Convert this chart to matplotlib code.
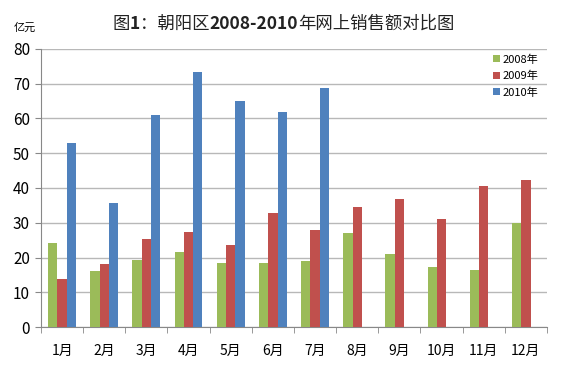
import numpy as np
import matplotlib
matplotlib.use("Agg")
import matplotlib.pyplot as plt
from matplotlib.offsetbox import TextArea, HPacker, AnchoredOffsetbox

plt.rcParams['font.family'] = ['Noto Sans CJK SC', 'DejaVu Sans']

months = ['1月', '2月', '3月', '4月', '5月', '6月', '7月', '8月', '9月', '10月', '11月', '12月']
sales_2008 = [24.1, 16.2, 19.4, 21.6, 18.5, 18.4, 18.9, 27.0, 21.0, 17.3, 16.3, 30.0]
sales_2009 = [13.9, 18.0, 25.4, 27.2, 23.5, 32.8, 28.0, 34.6, 36.9, 31.0, 40.5, 42.3]
sales_2010 = [52.8, 35.8, 61.1, 73.3, 64.9, 61.8, 68.9]
series_names = ['2008年', '2009年', '2010年']
colors = ['#9BBB59', '#C0504D', '#4F81BD']

# title pieces: (text, bold?)
title_parts = [('图', False), ('1', True), ('：朝阳区', False), ('2008-2010', True),
               ('年网上销售额对比图', False)]

fig = plt.figure(figsize=(5.67, 3.65), dpi=100)
ax = fig.add_axes([0.0723, 0.104, 0.8924, 0.762])

x = np.arange(len(months))
w = 0.22
for i, (vals, name, c) in enumerate(zip([sales_2008, sales_2009, sales_2010], series_names, colors)):
    xs = x[:len(vals)] + (i - 1) * w
    ax.bar(xs, vals, width=w, color=c, label=name, zorder=3)

ax.set_xlim(-0.5, len(months) - 0.5)
ax.set_ylim(0, 80)
ax.set_yticks(range(0, 81, 10))
ax.yaxis.grid(True, color='#b8b8b8', linewidth=1, zorder=0)

for s in ['top', 'right']:
    ax.spines[s].set_visible(False)
for s in ['left', 'bottom']:
    ax.spines[s].set_color('#888888')

# month labels centred, tick marks between categories
ax.set_xticks(x)
ax.set_xticklabels(months, fontsize=10)
ax.set_xticks(np.arange(-0.5, len(months)), minor=True)
ax.tick_params(axis='x', which='major', length=0, pad=12)
ax.tick_params(axis='x', which='minor', length=4, color='#888888')
ax.tick_params(axis='y', length=4, color='#888888', labelsize=11, pad=4)

ax.legend(loc='upper right', bbox_to_anchor=(0.995, 1.0), frameon=False,
          fontsize=8, handlelength=0.6, handleheight=0.6, handletextpad=0.3,
          labelspacing=0.55, borderaxespad=0.1)

# mixed weight title
boxes = [TextArea(t, textprops=dict(fontsize=12.5, fontweight='bold' if b else 'normal',
                                    color='#222222'))
         for t, b in title_parts]
title = AnchoredOffsetbox(loc='center', child=HPacker(children=boxes, pad=0, sep=0, align='baseline'),
                          frameon=False, bbox_to_anchor=(0.5, 0.935),
                          bbox_transform=fig.transFigure, pad=0, borderpad=0)
fig.add_artist(title)

fig.text(0.025, 0.925, '亿元', ha='left', va='center', fontsize=8)

fig.savefig('out.png', dpi=100)
